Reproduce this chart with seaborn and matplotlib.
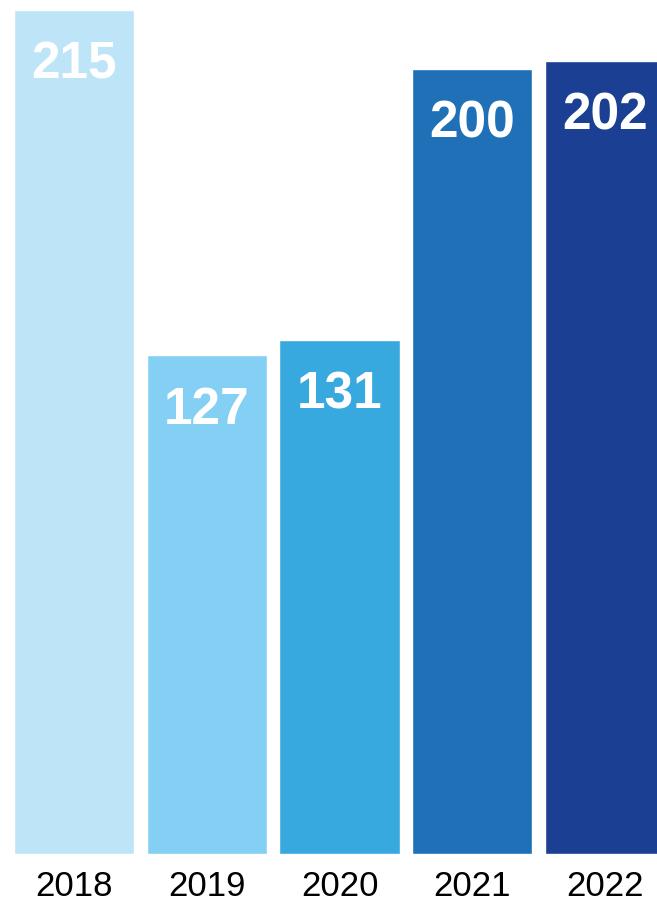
import matplotlib
matplotlib.use("Agg")
import matplotlib.pyplot as plt
import seaborn as sns
import pandas as pd

anni = ["2018", "2019", "2020", "2021", "2022"]
valori = [215, 127, 131, 200, 202]
colori = ["#BEE4F8", "#84D0F4", "#38A9DF", "#1F70B7", "#1A3F93"]

df = pd.DataFrame({"anno": anni, "valore": valori})

sns.set_style("white")
plt.rcParams['font.family'] = ['Liberation Sans', 'DejaVu Sans']

fig = plt.figure(figsize=(6.57, 9.04), dpi=100)
ax = fig.add_axes([0, 49 / 904, 1, 844 / 904])

sns.barplot(data=df, x="anno", y="valore", hue="anno", palette=colori,
            width=0.904, saturation=1, legend=False, ax=ax)

# etichette dei valori dentro le barre
for i, v in enumerate(valori):
    ax.annotate(str(v), (i, v), xytext=(0, -54), textcoords="offset pixels",
                ha="center", va="center", color="white",
                fontsize=37, fontweight="bold")

ax.set_xlim(-74 / 132.75, (657 - 74) / 132.75)
ax.set_ylim(0, 215)
ax.set_xlabel("")
ax.set_ylabel("")
ax.set_yticks([])
ax.tick_params(axis="x", length=0, labelsize=25, pad=11, labelcolor="black")
sns.despine(ax=ax, left=True, bottom=True)

fig.savefig("out.png", dpi=100)
